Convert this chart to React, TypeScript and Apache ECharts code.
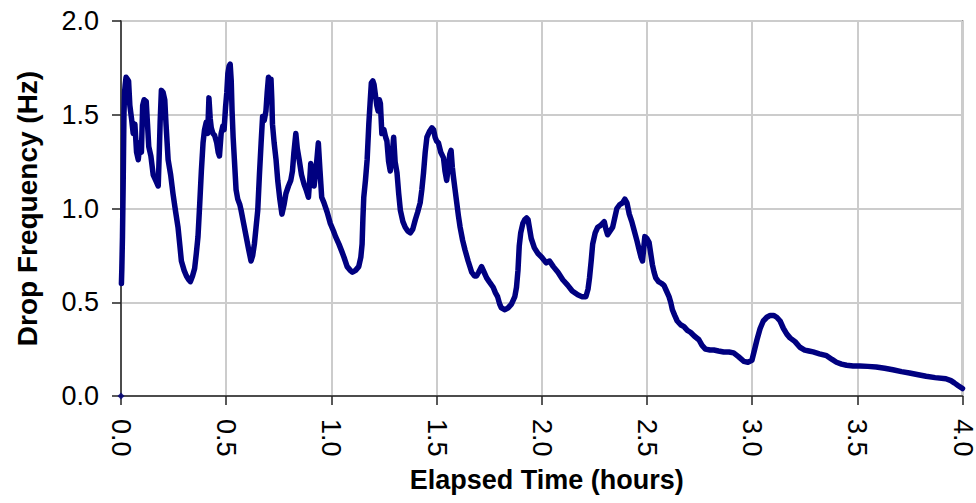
import React, { useEffect, useRef } from "react";
import * as echarts from "echarts";

const timeHours: number[] = [
  0.002, 0.004, 0.007, 0.01, 0.012, 0.014, 0.017, 0.02, 0.024, 0.03, 0.036, 0.042, 0.05, 0.058, 0.066, 0.074, 0.082, 0.09, 0.097,
  0.103, 0.11, 0.12, 0.126, 0.132, 0.142, 0.153, 0.165, 0.177, 0.182, 0.186, 0.192, 0.2, 0.208, 0.214, 0.224, 0.236, 0.247, 0.26,
  0.271, 0.28, 0.287, 0.3, 0.311, 0.322, 0.33, 0.34, 0.35, 0.358, 0.366, 0.374, 0.382, 0.39, 0.397, 0.405, 0.412, 0.418, 0.424,
  0.429, 0.437, 0.445, 0.455, 0.462, 0.468, 0.476, 0.484, 0.49, 0.497, 0.503, 0.508, 0.514, 0.519, 0.524, 0.528, 0.533, 0.539,
  0.547, 0.555, 0.565, 0.571, 0.583, 0.595, 0.607, 0.618, 0.626, 0.634, 0.642, 0.65, 0.658, 0.666, 0.673, 0.681, 0.689, 0.695,
  0.701, 0.707, 0.713, 0.717, 0.72, 0.728, 0.737, 0.745, 0.755, 0.765, 0.775, 0.784, 0.796, 0.807, 0.815, 0.822, 0.831, 0.838,
  0.847, 0.858, 0.87, 0.88, 0.891, 0.897, 0.902, 0.91, 0.918, 0.928, 0.938, 0.946, 0.954, 0.965, 0.98, 0.995, 1.01, 1.02, 1.036,
  1.05, 1.06, 1.075, 1.09, 1.1, 1.115, 1.13, 1.14, 1.146, 1.15, 1.154, 1.162, 1.17, 1.178, 1.185, 1.19, 1.197, 1.203, 1.21, 1.216,
  1.222, 1.228, 1.233, 1.24, 1.25, 1.258, 1.264, 1.272, 1.28, 1.29, 1.296, 1.303, 1.312, 1.32, 1.328, 1.34, 1.351, 1.363, 1.375,
  1.387, 1.399, 1.41, 1.422, 1.43, 1.438, 1.446, 1.454, 1.466, 1.478, 1.486, 1.493, 1.5, 1.509, 1.52, 1.533, 1.54, 1.548, 1.556,
  1.563, 1.569, 1.575, 1.58, 1.588, 1.596, 1.604, 1.612, 1.624, 1.635, 1.65, 1.667, 1.68, 1.69, 1.7, 1.714, 1.726, 1.738, 1.75,
  1.769, 1.78, 1.79, 1.8, 1.808, 1.825, 1.84, 1.856, 1.872, 1.88, 1.887, 1.893, 1.9, 1.91, 1.919, 1.928, 1.935, 1.944, 1.95,
  1.965, 1.982, 2.0, 2.021, 2.037, 2.055, 2.077, 2.1, 2.124, 2.145, 2.171, 2.19, 2.21, 2.22, 2.227, 2.235, 2.242, 2.254, 2.266,
  2.28, 2.297, 2.305, 2.313, 2.325, 2.337, 2.347, 2.357, 2.37, 2.384, 2.395, 2.405, 2.416, 2.428, 2.44, 2.452, 2.463, 2.472,
  2.479, 2.484, 2.49, 2.5, 2.51, 2.518, 2.526, 2.534, 2.542, 2.555, 2.57, 2.581, 2.593, 2.605, 2.613, 2.621, 2.632, 2.644, 2.66,
  2.676, 2.692, 2.707, 2.725, 2.747, 2.762, 2.778, 2.8, 2.818, 2.84, 2.865, 2.89, 2.912, 2.935, 2.96, 2.98, 2.999, 3.01, 3.023,
  3.038, 3.053, 3.07, 3.086, 3.102, 3.117, 3.133, 3.149, 3.165, 3.18, 3.204, 3.227, 3.25, 3.27, 3.29, 3.32, 3.354, 3.38, 3.401,
  3.425, 3.449, 3.48, 3.512, 3.55, 3.59, 3.63, 3.669, 3.71, 3.748, 3.79, 3.827, 3.87, 3.921, 3.945, 3.961, 3.98, 4.0,
];

const freqHz: number[] = [
  0.6, 0.68, 0.85, 1.1, 1.3, 1.5, 1.62, 1.66, 1.7, 1.69, 1.68, 1.55, 1.48, 1.4, 1.45, 1.3, 1.26, 1.35, 1.3,
  1.55, 1.58, 1.57, 1.45, 1.33, 1.28, 1.18, 1.15, 1.12, 1.3, 1.46, 1.63, 1.62, 1.58, 1.45, 1.26, 1.18, 1.08, 0.98,
  0.9, 0.8, 0.72, 0.67, 0.64, 0.62, 0.61, 0.64, 0.68, 0.76, 0.85, 1.02, 1.2, 1.35, 1.42, 1.46, 1.4, 1.59, 1.48,
  1.43, 1.4, 1.39, 1.35, 1.3, 1.28, 1.4, 1.44, 1.42, 1.54, 1.62, 1.72, 1.76, 1.77, 1.68, 1.52, 1.38, 1.26,
  1.1, 1.05, 1.02, 0.99, 0.92, 0.85, 0.78, 0.72, 0.75, 0.81, 0.9, 0.99, 1.18, 1.35, 1.49, 1.47, 1.52, 1.62,
  1.7, 1.69, 1.69, 1.58, 1.45, 1.35, 1.26, 1.15, 1.05, 0.97, 1.02, 1.08, 1.12, 1.15, 1.2, 1.3, 1.4, 1.32,
  1.26, 1.18, 1.13, 1.1, 1.06, 1.15, 1.24, 1.18, 1.12, 1.22, 1.35, 1.2, 1.06, 1.03, 0.98, 0.92, 0.88, 0.85, 0.81,
  0.77, 0.74, 0.69, 0.67, 0.66, 0.67, 0.69, 0.74, 0.81, 0.95, 1.06, 1.15, 1.26, 1.45, 1.58, 1.67, 1.68, 1.66, 1.6, 1.55,
  1.52, 1.58, 1.56, 1.4, 1.42, 1.38, 1.36, 1.25, 1.2, 1.3, 1.38, 1.25, 1.19, 1.08, 0.99, 0.93, 0.9, 0.88, 0.87,
  0.89, 0.94, 0.98, 1.03, 1.1, 1.19, 1.3, 1.38, 1.41, 1.43, 1.42, 1.38, 1.36, 1.35, 1.3, 1.27, 1.2, 1.15, 1.22,
  1.29, 1.31, 1.22, 1.17, 1.1, 1.03, 0.96, 0.9, 0.83, 0.78, 0.72, 0.66, 0.64, 0.64, 0.66, 0.69, 0.66, 0.63, 0.61,
  0.58, 0.55, 0.53, 0.49, 0.47, 0.46, 0.47, 0.49, 0.53, 0.58, 0.67, 0.8, 0.87, 0.92, 0.94, 0.95, 0.94, 0.88, 0.84,
  0.79, 0.76, 0.74, 0.71, 0.72, 0.69, 0.66, 0.62, 0.59, 0.56, 0.54, 0.53, 0.53, 0.57, 0.63, 0.72, 0.81, 0.87, 0.9,
  0.91, 0.93, 0.89, 0.86, 0.88, 0.9, 0.95, 1.0, 1.02, 1.03, 1.05, 1.03, 0.97, 0.93, 0.88, 0.83, 0.78, 0.74,
  0.72, 0.78, 0.85, 0.84, 0.82, 0.76, 0.7, 0.66, 0.63, 0.61, 0.6, 0.59, 0.56, 0.53, 0.5, 0.46, 0.43, 0.4, 0.38,
  0.37, 0.35, 0.34, 0.32, 0.3, 0.27, 0.25, 0.245, 0.245, 0.24, 0.235, 0.235, 0.23, 0.21, 0.185, 0.18, 0.19, 0.24, 0.3,
  0.36, 0.4, 0.42, 0.43, 0.43, 0.42, 0.4, 0.36, 0.33, 0.31, 0.29, 0.26, 0.245, 0.24, 0.235, 0.225, 0.215, 0.195, 0.18,
  0.17, 0.164, 0.16, 0.16, 0.158, 0.155, 0.148, 0.14, 0.13, 0.123, 0.113, 0.105, 0.098, 0.092, 0.082, 0.07, 0.055, 0.04,
];

const originPoint: [number, number][] = [[0, 0]];
const xTicks = { min: 0, max: 4, step: 0.5 };
const yTicks = { min: 0, max: 2, step: 0.5 };
const xTitle = "Elapsed Time (hours)";
const yTitle = "Drop Frequency (Hz)";

export default function App() {
  const ref = useRef<HTMLDivElement>(null);
  useEffect(() => {
    document.body.style.margin = "0";
    if (!ref.current) return;
    const chart = echarts.init(ref.current, undefined, { renderer: "svg" });
    const font = "'Liberation Sans', Arial, sans-serif";
    const data = timeHours.map((t, i) => [t, freqHz[i]]);
    chart.setOption({
      animation: false,
      backgroundColor: "#ffffff",
      grid: {
        left: 121,
        right: 9,
        top: 21,
        bottom: 107,
        show: true,
        borderColor: "#333333",
        borderWidth: 1.5,
        containLabel: false,
      },
      xAxis: {
        type: "value",
        min: xTicks.min,
        max: xTicks.max,
        interval: xTicks.step,
        name: xTitle,
        nameLocation: "middle",
        nameGap: 70,
        nameTextStyle: { fontFamily: font, fontSize: 27, fontWeight: "bold", color: "#000", padding: [0, 0, 0, 10] },
        axisLine: { show: true, onZero: false, lineStyle: { color: "#222", width: 1.5 } },
        axisTick: { show: true, length: 9, lineStyle: { color: "#222", width: 1.5 } },
        axisLabel: {
          rotate: -90,
          margin: 23,
          fontFamily: font,
          fontSize: 27,
          color: "#000",
          formatter: (v: number) => v.toFixed(1),
        },
        splitLine: { show: true, lineStyle: { color: "#cccccc", width: 2 } },
      },
      yAxis: {
        type: "value",
        min: yTicks.min,
        max: yTicks.max,
        interval: yTicks.step,
        name: yTitle,
        nameLocation: "middle",
        nameRotate: 90,
        nameGap: 80,
        nameTextStyle: { fontFamily: font, fontSize: 28, fontWeight: "bold", color: "#000" },
        axisLine: { show: true, onZero: false, lineStyle: { color: "#222", width: 1.5 } },
        axisTick: { show: true, length: 9, lineStyle: { color: "#222", width: 1.5 } },
        axisLabel: {
          margin: 22,
          fontFamily: font,
          fontSize: 27,
          color: "#000",
          formatter: (v: number) => v.toFixed(1),
        },
        splitLine: { show: true, lineStyle: { color: "#cccccc", width: 2 } },
      },
      series: [
        {
          type: "line",
          data,
          showSymbol: false,
          symbol: "none",
          lineStyle: { color: "#000080", width: 5.5, join: "round", cap: "round" },
          itemStyle: { color: "#000080" },
          clip: true,
        },
        {
          type: "scatter",
          data: originPoint,
          symbol: "diamond",
          symbolSize: 7,
          itemStyle: { color: "#000080" },
          clip: false,
        },
      ],
    });
    return () => chart.dispose();
  }, []);
  return <div ref={ref} style={{ width: 976, height: 503 }} />;
}
